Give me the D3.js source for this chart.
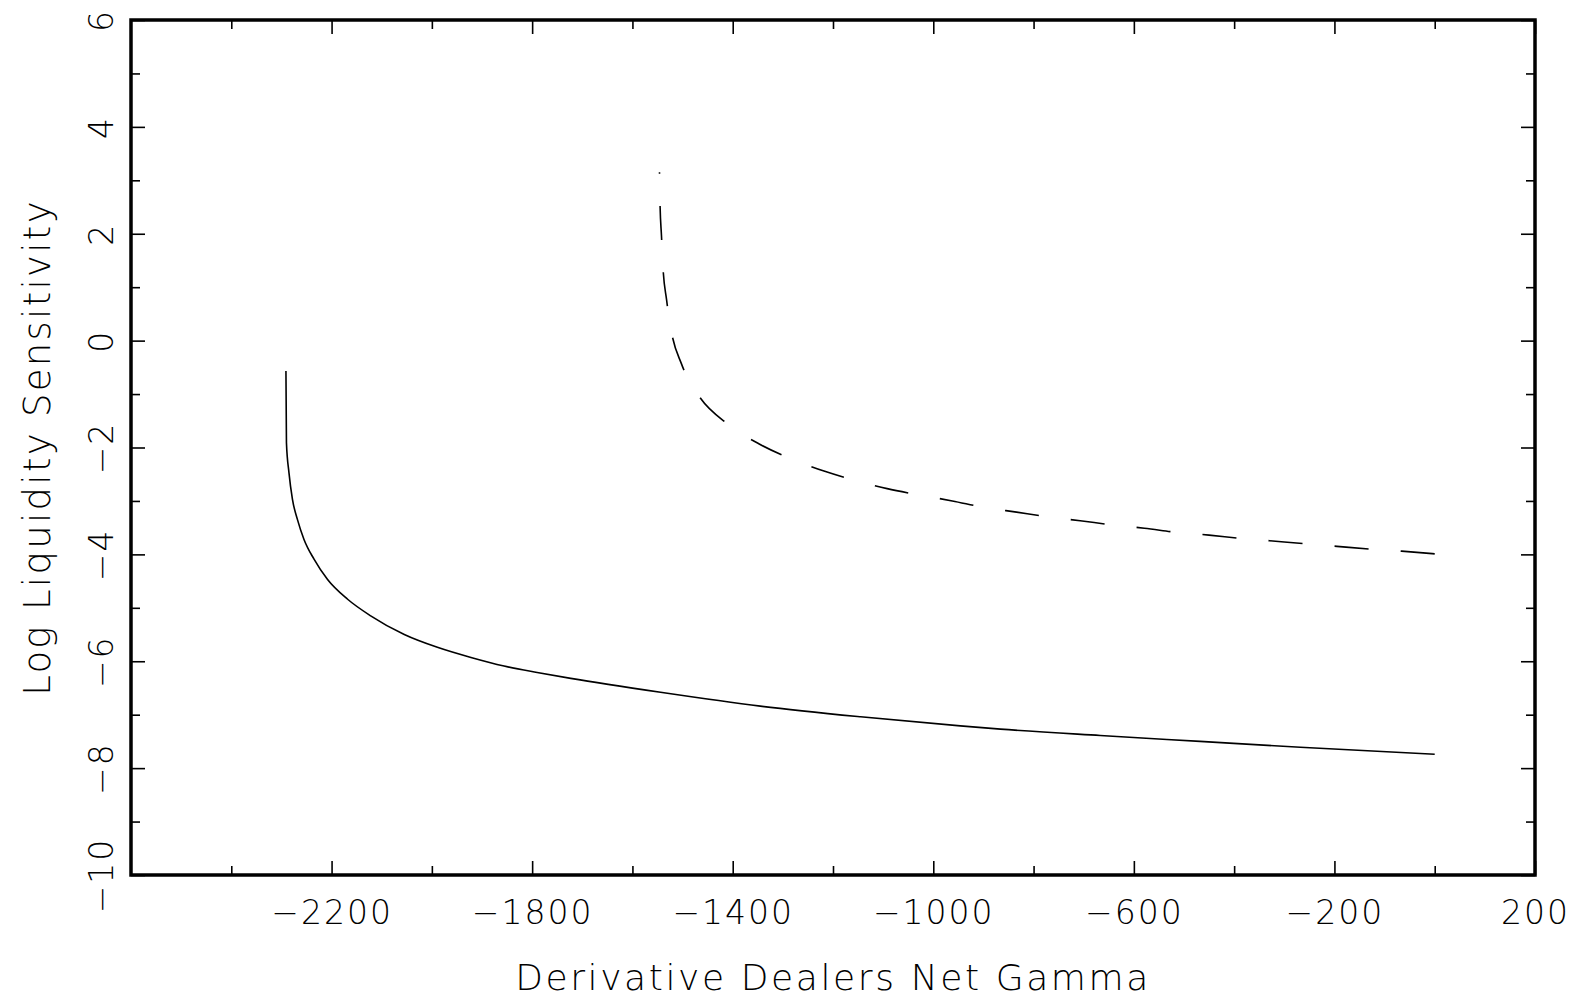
<!DOCTYPE html>
<html>
  <head>
    <meta charset="utf-8" />
    <title>Log Liquidity Sensitivity</title>
    <style>
      body { margin: 0; background: #fff; }
      svg text { font-family: "DejaVu Sans", sans-serif; font-weight: 200; fill: #000; }
      .tick line { stroke: #000; stroke-width: 1.6; }
      .domain { display: none; }
    </style>
  </head>
  <body>
    <svg id="chart" width="1575" height="1000"></svg>
    <script src="https://cdnjs.cloudflare.com/ajax/libs/d3/7.8.5/d3.min.js"></script>
    <script>
// values
const solidX = [-2291, -2290, -2285, -2278, -2268, -2255, -2235, -2208, -2168, -2122, -2055, -1989, -1922, -1856, -1790, -1723, -1544, -1345, -1145, -946, -866, -667, -468, -268, 0];
const solidY = [-0.57, -1.91, -2.47, -2.97, -3.35, -3.72, -4.09, -4.47, -4.84, -5.15, -5.50, -5.74, -5.93, -6.09, -6.21, -6.32, -6.58, -6.84, -7.04, -7.21, -7.27, -7.39, -7.50, -7.61, -7.74];

const dashX = [-1546, -1545, -1542, -1539, -1532, -1522, -1502, -1467, -1410, -1348, -1281, -1218, -1154, -1092, -1027, -962, -898, -834, -770, -707, -642, -579, -513, -450, -387, -323, -258, -195, -130, -66, 0];
const dashY = [3.15, 2.57, 1.95, 1.36, 0.77, 0.155, -0.44, -1.04, -1.56, -1.93, -2.22, -2.44, -2.62, -2.77, -2.89, -3.00, -3.12, -3.21, -3.30, -3.37, -3.45, -3.51, -3.59, -3.64, -3.70, -3.75, -3.80, -3.85, -3.90, -3.94, -3.99];

const xMajor = [-2200, -1800, -1400, -1000, -600, -200, 200];
const xMinor = [-2400, -2000, -1600, -1200, -800, -400, 0];
const yMajor = [-10, -8, -6, -4, -2, 0, 2, 4, 6];
const yMinor = [-9, -7, -5, -3, -1, 1, 3, 5];

const xTitle = 'Derivative Dealers Net Gamma';
const yTitle = 'Log Liquidity Sensitivity';

const plotLeft = 131, plotRight = 1535, plotTop = 20, plotBottom = 875;

const svg = d3.select('#chart');

const x = d3.scaleLinear().domain([-2600, 200]).range([plotLeft, plotRight]);
const y = d3.scaleLinear().domain([-10, 6]).range([plotBottom, plotTop]);

const fmt = d3.format('d');

// bottom axis with labels
const bottomAxis = svg.append('g')
  .attr('transform', `translate(0,${plotBottom})`)
  .call(d3.axisBottom(x).tickValues(xMajor).tickSize(-14).tickPadding(26).tickFormat(fmt));
bottomAxis.selectAll('text')
  .attr('font-size', 33)
  .attr('letter-spacing', 2);

svg.append('g')
  .attr('transform', `translate(0,${plotBottom})`)
  .call(d3.axisBottom(x).tickValues(xMinor).tickSize(-9).tickFormat(''));

// top axis
svg.append('g')
  .attr('transform', `translate(0,${plotTop})`)
  .call(d3.axisTop(x).tickValues(xMajor).tickSize(-14).tickFormat(''));
svg.append('g')
  .attr('transform', `translate(0,${plotTop})`)
  .call(d3.axisTop(x).tickValues(xMinor).tickSize(-9).tickFormat(''));

// left axis, labels turned upward
const leftAxis = svg.append('g')
  .attr('transform', `translate(${plotLeft},0)`)
  .call(d3.axisLeft(y).tickValues(yMajor).tickSize(-14).tickFormat(fmt));
leftAxis.selectAll('text')
  .attr('x', 0)
  .attr('dy', 0)
  .attr('text-anchor', 'middle')
  .attr('transform', 'translate(-18,0) rotate(-90)')
  .attr('font-size', 33)
  .attr('letter-spacing', 2);

svg.append('g')
  .attr('transform', `translate(${plotLeft},0)`)
  .call(d3.axisLeft(y).tickValues(yMinor).tickSize(-9).tickFormat(''));

// right axis
svg.append('g')
  .attr('transform', `translate(${plotRight},0)`)
  .call(d3.axisRight(y).tickValues(yMajor).tickSize(-14).tickFormat(''));
svg.append('g')
  .attr('transform', `translate(${plotRight},0)`)
  .call(d3.axisRight(y).tickValues(yMinor).tickSize(-9).tickFormat(''));

// frame
svg.append('rect')
  .attr('x', plotLeft).attr('y', plotTop)
  .attr('width', plotRight - plotLeft).attr('height', plotBottom - plotTop)
  .attr('fill', 'none')
  .attr('stroke', '#000')
  .attr('stroke-width', 3.5);

const line = d3.line()
  .x(d => x(d[0]))
  .y(d => y(d[1]))
  .curve(d3.curveMonotoneX);

svg.append('path')
  .datum(d3.zip(solidX, solidY))
  .attr('d', line)
  .attr('fill', 'none')
  .attr('stroke', '#000')
  .attr('stroke-width', 1.6);

// dashed curve drawn from right to left; 15 dashes and a dot at the top end
const dashed = svg.append('path')
  .datum(d3.zip(dashX, dashY).reverse())
  .attr('d', line)
  .attr('fill', 'none')
  .attr('stroke', '#000')
  .attr('stroke-width', 1.6);
const period = (dashed.node().getTotalLength() - 1.5) / 15;
dashed.attr('stroke-dasharray', `${period * 0.515},${period * 0.485}`);

// titles
svg.append('text')
  .attr('x', (plotLeft + plotRight) / 2)
  .attr('y', 990)
  .attr('text-anchor', 'middle')
  .attr('font-size', 36)
  .attr('letter-spacing', 2.6)
  .text(xTitle);

svg.append('text')
  .attr('transform', `translate(50,${(plotTop + plotBottom) / 2}) rotate(-90)`)
  .attr('text-anchor', 'middle')
  .attr('font-size', 37)
  .attr('letter-spacing', 2.3)
  .text(yTitle);
    </script>
  </body>
</html>
